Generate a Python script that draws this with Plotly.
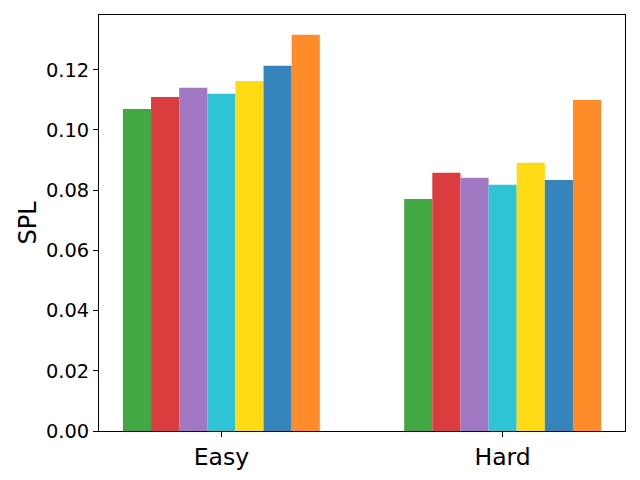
import plotly.graph_objects as go

categories = ["Easy", "Hard"]
series_names = ["M1", "M2", "M3", "M4", "M5", "M6", "M7"]
series_values = [
    [0.1070, 0.0771],
    [0.1110, 0.0858],
    [0.1140, 0.0841],
    [0.1120, 0.0818],
    [0.1163, 0.0891],
    [0.1213, 0.0834],
    [0.1316, 0.1100],
]
colors = ["#41a843", "#db3d3f", "#a078c4", "#2ec4d4", "#ffdb15", "#3584bc", "#ff8c28"]

fig = go.Figure()
for name, vals, col in zip(series_names, series_values, colors):
    fig.add_trace(go.Bar(x=categories, y=vals, name=name,
                         marker=dict(color=col, line=dict(width=0))))

fig.update_layout(
    width=640, height=480,
    barmode="group", bargap=0.3, bargroupgap=0,
    showlegend=False,
    plot_bgcolor="white", paper_bgcolor="white",
    margin=dict(l=99, r=15, t=15, b=49, autoexpand=False),
    font=dict(family="DejaVu Sans", color="black"),
)
fig.update_xaxes(range=[-0.435, 1.435], showline=True, linecolor="black", linewidth=1,
                 mirror=True, ticks="outside", ticklen=5, tickcolor="black",
                 tickfont=dict(size=23.5), showgrid=False, automargin=False)
fig.update_yaxes(range=[0, 0.1382], dtick=0.02, tickformat=".2f", showline=True,
                 linecolor="black", linewidth=1, mirror=True, ticks="outside",
                 ticklen=5, tickcolor="black", tickfont=dict(size=19.4), showgrid=False,
                 zeroline=False, automargin=False,
                 title=dict(text="SPL", font=dict(size=24), standoff=2))

fig.write_html("out.html", config={"displayModeBar": False},
               post_script="document.body.style.margin='0';")
